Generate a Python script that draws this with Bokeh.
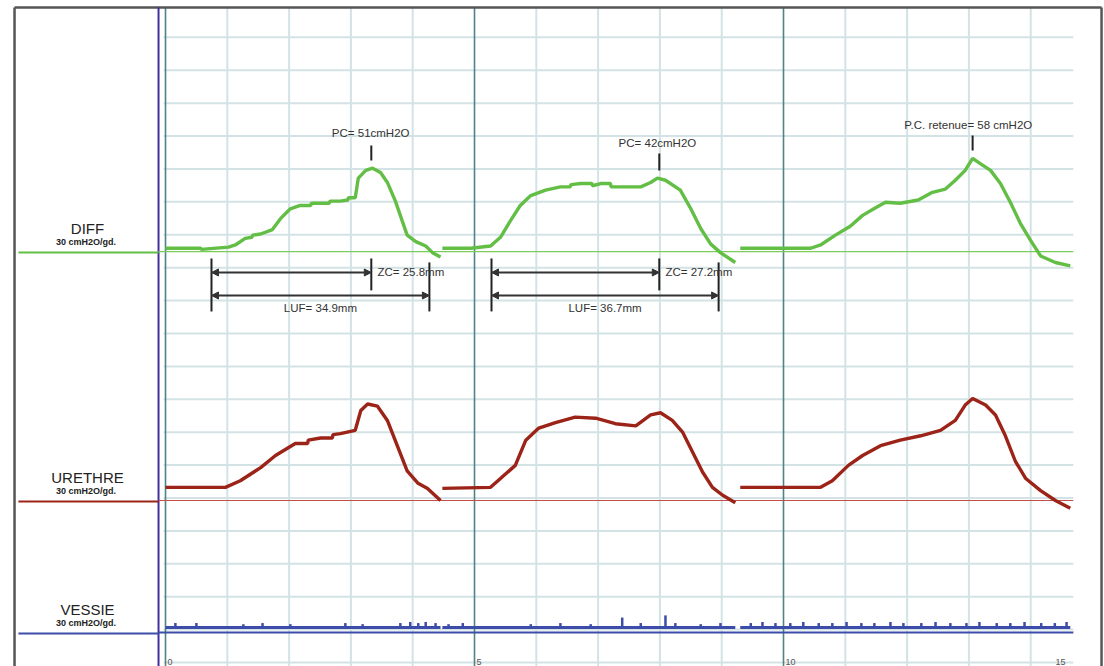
from bokeh.plotting import figure
from bokeh.models import Range1d, Arrow, NormalHead
from bokeh.embed import file_html
from bokeh.resources import INLINE
from bokeh.core.properties import value

FONT = value("Liberation Sans")

# ---------------- data ----------------
# time axis (chart divisions)
tick_pos = [0, 5, 10, 14.37]
tick_labels = ["0", "5", "10", "15"]
major_x = [0, 5, 10]
minor_x = [1, 2, 3, 4, 6, 7, 8, 9, 11, 12, 13, 14]
grid_y = list(range(20))

channels = ["DIFF", "URETHRE", "VESSIE"]
channel_units = ["30 cmH2O/gd.", "30 cmH2O/gd.", "30 cmH2O/gd."]
channel_base = [12.49, 4.924, 0.912]     # grid position of each channel's zero line
cm_per_div = 30.0

# DIFF (cmH2O)
diff_x = [
    [0, 0.57, 0.58, 1.02, 1.13, 1.29, 1.40, 1.41, 1.54, 1.73, 1.86, 2.02, 2.18, 2.35, 2.36, 2.51, 2.65, 2.66, 2.83, 2.95,
     2.96, 3.07, 3.12, 3.24, 3.35, 3.48, 3.59, 3.72, 3.83, 3.91, 4.05, 4.21, 4.32, 4.45],
    [4.48, 4.94, 5.26, 5.42, 5.58, 5.74, 5.91, 6.15, 6.39, 6.55, 6.56, 6.72, 6.90, 6.91, 7.04, 7.20, 7.21, 7.36, 7.69, 7.85,
     7.96, 8.09, 8.33, 8.50, 8.66, 8.82, 8.98, 9.22],
    [9.30, 10.44, 10.60, 10.84, 11.08, 11.28, 11.49, 11.65, 11.89, 12.18, 12.41, 12.62, 12.78, 12.94, 13.06, 13.19, 13.35,
     13.51, 13.67, 13.83, 14.00, 14.16, 14.40, 14.64],
]
diff_y = [
    [3, 3, 2, 4, 6, 12, 13, 15, 16, 20, 30, 39, 42, 42, 44, 44, 44, 46, 46, 47,
     49, 49, 67, 74, 76, 72, 63, 46, 28, 15, 9, 5, -1, -5],
    [3, 3, 5, 13, 28, 42, 51, 56, 59, 59, 61, 62, 62, 60, 62, 62, 59, 59, 59, 63,
     67, 65, 56, 39, 21, 7, -1, -10],
    [3, 3, 6, 15, 23, 33, 40, 45, 44, 47, 54, 57, 65, 74, 85, 80, 74, 62, 45, 26, 10, -4, -10, -13],
]

# URETHRE (cmH2O)
ure_x = [
    [0, 0.97, 1.21, 1.54, 1.78, 2.10, 2.30, 2.31, 2.51, 2.70, 2.71, 2.83, 3.07, 3.16, 3.27, 3.43, 3.59, 3.75, 3.91, 4.08,
     4.24, 4.45],
    [4.48, 5.26, 5.42, 5.66, 5.83, 6.04, 6.31, 6.63, 6.96, 7.28, 7.61, 7.85, 8.01, 8.20, 8.37, 8.53, 8.69, 8.85, 9.01, 9.22],
    [9.30, 10.60, 10.79, 11.05, 11.28, 11.57, 11.89, 12.22, 12.54, 12.78, 12.94, 13.06, 13.27, 13.43, 13.59, 13.75, 13.92,
     14.16, 14.40, 14.64],
]
ure_y = [
    [12, 12, 18, 30, 41, 52, 52, 55, 57, 57, 60, 61, 64, 82, 88, 86, 73, 50, 27, 16, 11, 0],
    [11, 12, 20, 32, 55, 66, 71, 76, 75, 70, 68, 78, 80, 73, 62, 44, 26, 12, 5, -2],
    [12, 12, 18, 32, 41, 50, 55, 59, 64, 73, 87, 93, 87, 78, 59, 36, 20, 9, 0, -7],
]

# VESSIE (cmH2O): resting level per segment plus small artefact spikes
ves_seg_start = [0, 4.48, 9.30]
ves_seg_end = [4.45, 9.22, 14.64]
ves_level = 4.6
ves_spike_x = [0.16, 0.50, 1.26, 1.57, 2.02, 2.91, 3.19, 3.80, 3.96, 4.09, 4.21, 4.37,
               4.58, 4.81, 5.91, 6.39, 6.88, 7.39, 7.69, 8.09, 8.25, 8.66, 8.98,
               9.47, 9.66, 9.87, 10.11, 10.32, 10.57, 10.79, 11.02, 11.26, 11.47, 11.73, 11.94,
               12.23, 12.46, 12.70, 12.96, 13.17, 13.45, 13.67, 13.90, 14.17, 14.39, 14.58]
ves_spike_h = [4, 4, 3, 4, 3, 4, 3, 4, 5, 4, 5, 4,
               3, 4, 3, 4, 3, 9, 4, 11, 4, 3, 4,
               4, 5, 4, 4, 5, 4, 4, 5, 4, 4, 5, 4,
               4, 5, 4, 4, 5, 4, 4, 5, 4, 4, 5]

# annotations
pc_text = ["PC= 51cmH2O", "PC= 42cmH2O", "P.C. retenue= 58 cmH2O"]
pc_text_x = [3.32, 7.96, 12.99]
pc_text_y = [16.08, 15.78, 16.35]
pc_tick_x = [3.33, 7.99, 13.06]
pc_tick_y0 = [15.71, 15.47, 16.02]
pc_tick_y1 = [15.26, 14.95, 15.56]

meas_start = [0.744, 5.275]
zc_end = [3.33, 7.99]
luf_end = [4.27, 8.95]
zc_text = ["ZC= 25.8mm", "ZC= 27.2mm"]
luf_text = ["LUF= 34.9mm", "LUF= 36.7mm"]
zc_level = 11.854
luf_level = 11.155

# ---------------- figure ----------------
X0, X1 = -2.670, 15.194
Y0, Y1 = -0.1216, 20.12
TOP = 19.91
p = figure(width=1104, height=666, x_range=Range1d(X0, X1), y_range=Range1d(Y0, Y1),
           output_backend="svg", toolbar_location=None, min_border=0)
p.axis.visible = False
p.grid.visible = False
p.outline_line_color = None
p.background_fill_color = "white"
p.border_fill_color = "white"

GRID = "#d3e3e5"
# grid
p.segment(x0=minor_x, y0=[Y0] * len(minor_x), x1=minor_x, y1=[TOP] * len(minor_x),
          line_color=GRID, line_width=2)
p.segment(x0=[-0.03] * len(grid_y), y0=grid_y, x1=[14.69] * len(grid_y), y1=grid_y,
          line_color=GRID, line_width=2)
p.segment(x0=major_x, y0=[Y0] * 3, x1=major_x, y1=[TOP] * 3,
          line_color="#4e8486", line_width=1.6)

# frame
p.segment(x0=[-2.443, -2.443, 15.146], y0=[TOP, Y0, Y0], x1=[15.146, -2.443, 15.146],
          y1=[TOP, TOP, TOP], line_color="#555555", line_width=2.5)
# channel axis line
p.segment(x0=[-0.113], y0=[Y0], x1=[-0.113], y1=[TOP], line_color="#4030a0", line_width=2)

colors = ["#63be45", "#9b2318", "#3c4ca8"]
ref_colors = ["#7ccc5c", "#c2504a", "#3c4ca8"]
ref_width = [1.2, 1.2, 2]

# left labels and zero lines
for i, name in enumerate(channels):
    b = channel_base[i]
    p.text(x=[-1.262], y=[b + 0.69], text=[name], text_font=FONT, text_font_size="15px",
           text_align="center", text_baseline="alphabetic", text_color="#222222")
    p.text(x=[-1.285], y=[b + 0.30], text=[channel_units[i]], text_font=FONT, text_font_size="9px",
           text_align="center", text_baseline="alphabetic", text_color="#222222",
           text_font_style="bold")
    p.line([-2.38, -0.113], [b - 0.03, b - 0.03], line_color=colors[i], line_width=2)
    p.line([-0.113, 14.69], [b, b], line_color=ref_colors[i], line_width=ref_width[i])

# traces
def to_grid(vals, base):
    return [base + v / cm_per_div for v in vals]

for xs, ys in zip(diff_x, diff_y):
    p.line(xs, to_grid(ys, channel_base[0]), line_color=colors[0], line_width=3.4)
for xs, ys in zip(ure_x, ure_y):
    p.line(xs, to_grid(ys, channel_base[1]), line_color=colors[1], line_width=3.4)
for a, b in zip(ves_seg_start, ves_seg_end):
    p.line([a, b], to_grid([ves_level, ves_level], channel_base[2]), line_color=colors[2], line_width=3)
p.segment(x0=ves_spike_x, y0=to_grid([ves_level] * len(ves_spike_x), channel_base[2]),
          x1=ves_spike_x, y1=to_grid([ves_level + h for h in ves_spike_h], channel_base[2]),
          line_color=colors[2], line_width=2.5)

# PC annotations
TXT = "#333333"
p.text(x=pc_text_x, y=pc_text_y, text=pc_text, text_font=FONT, text_font_size="11.5px",
       text_align="center", text_baseline="middle", text_color=TXT)
p.segment(x0=pc_tick_x, y0=pc_tick_y0, x1=pc_tick_x, y1=pc_tick_y1, line_color="#222222", line_width=2)

# ZC / LUF measurement brackets
bar_top = 12.28
bar_bot = 10.67
for i in range(2):
    s, z, l = meas_start[i], zc_end[i], luf_end[i]
    p.segment(x0=[s, z, l], y0=[bar_top, bar_top, 12.16], x1=[s, z, l], y1=[bar_bot, 11.31, bar_bot],
              line_color="#222222", line_width=2)
    for lev, e in ((zc_level, z), (luf_level, l)):
        p.add_layout(Arrow(x_start=s, y_start=lev, x_end=e, y_end=lev, line_color="#333333",
                           line_width=2,
                           start=NormalHead(size=7, fill_color="#333333", line_color="#333333"),
                           end=NormalHead(size=7, fill_color="#333333", line_color="#333333")))
    p.text(x=[z + 0.1], y=[zc_level], text=[zc_text[i]], text_font=FONT, text_font_size="11.5px",
           text_align="left", text_baseline="middle", text_color=TXT)
    p.text(x=[(s + l) / 2], y=[10.76], text=[luf_text[i]], text_font=FONT, text_font_size="11.5px",
           text_align="center", text_baseline="middle", text_color=TXT)

# time tick labels
p.text(x=tick_pos, y=[-0.09] * len(tick_pos), text=tick_labels, text_font=FONT, text_font_size="9px",
       text_align="left", text_baseline="bottom", text_color="#555555", x_offset=2)

open("out.html", "w").write(file_html(p, INLINE))
